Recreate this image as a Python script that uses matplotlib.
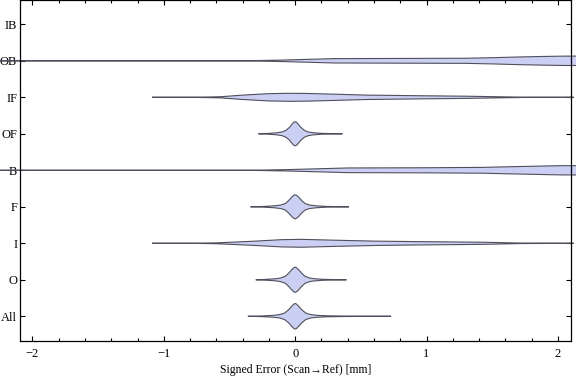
import matplotlib.pyplot as plt
from matplotlib.ticker import MultipleLocator

# categories bottom -> top
categories = ['All', 'O', 'I', 'F', 'B', 'OF', 'IF', 'OB', 'IB']

# violin outlines: x position [mm] and half-width (row units)
all_x = [-0.36, -0.25, -0.17, -0.12, -0.08, -0.05, -0.025, -0.01, 0, 0.01, 0.025, 0.05, 0.08, 0.12, 0.17, 0.25, 0.45, 0.73]
all_w = [0, 0.01, 0.025, 0.045, 0.09, 0.18, 0.28, 0.335, 0.35, 0.335, 0.28, 0.18, 0.09, 0.045, 0.025, 0.012, 0.004, 0]

o_x = [-0.30, -0.22, -0.15, -0.11, -0.075, -0.05, -0.025, -0.01, 0, 0.01, 0.025, 0.05, 0.075, 0.11, 0.15, 0.22, 0.39]
o_w = [0, 0.012, 0.028, 0.05, 0.095, 0.18, 0.28, 0.33, 0.345, 0.33, 0.28, 0.18, 0.095, 0.05, 0.028, 0.012, 0]

i_x = [-1.09, -0.75, -0.6, -0.45, -0.3, -0.1, 0.05, 0.3, 0.6, 0.9, 1.2, 1.45, 1.7, 2.12]
i_w = [0, 0.003, 0.012, 0.035, 0.06, 0.1, 0.108, 0.085, 0.06, 0.047, 0.037, 0.028, 0.008, 0]

f_x = [-0.34, -0.24, -0.16, -0.11, -0.075, -0.05, -0.025, -0.01, 0, 0.01, 0.025, 0.05, 0.075, 0.11, 0.16, 0.24, 0.41]
f_w = [0, 0.01, 0.026, 0.048, 0.09, 0.17, 0.27, 0.315, 0.33, 0.315, 0.27, 0.17, 0.09, 0.048, 0.026, 0.01, 0]

b_x = [-2.3, -0.3, -0.05, 0.4, 1.0, 1.43, 1.6, 1.8, 2.0, 2.2]
b_w = [0, 0.003, 0.02, 0.064, 0.07, 0.08, 0.095, 0.11, 0.125, 0.13]

of_x = [-0.28, -0.2, -0.14, -0.1, -0.07, -0.045, -0.022, -0.01, 0, 0.01, 0.022, 0.045, 0.07, 0.1, 0.14, 0.2, 0.36]
of_w = [0, 0.012, 0.028, 0.05, 0.095, 0.17, 0.27, 0.315, 0.33, 0.315, 0.27, 0.17, 0.095, 0.05, 0.028, 0.012, 0]

if_x = [-1.09, -0.75, -0.57, -0.4, -0.2, -0.05, 0.1, 0.3, 0.55, 0.9, 1.3, 1.55, 1.75, 2.12]
if_w = [0, 0.003, 0.015, 0.06, 0.1, 0.11, 0.105, 0.085, 0.06, 0.045, 0.03, 0.015, 0.004, 0]

ob_x = [-2.3, -0.35, -0.1, 0.3, 0.8, 1.3, 1.5, 1.7, 1.9, 2.05, 2.2]
ob_w = [0, 0.003, 0.02, 0.06, 0.065, 0.07, 0.085, 0.105, 0.12, 0.128, 0.13]

profiles = {'All': (all_x, all_w), 'O': (o_x, o_w), 'I': (i_x, i_w), 'F': (f_x, f_w),
            'B': (b_x, b_w), 'OF': (of_x, of_w), 'IF': (if_x, if_w), 'OB': (ob_x, ob_w)}

plt.rcParams['font.family'] = ['Liberation Serif', 'DejaVu Serif']

fig = plt.figure(figsize=(5.76, 3.81), dpi=100)
ax = fig.add_axes([20 / 576, 40 / 381, 551 / 576, 341 / 381])

for pos, cat in enumerate(categories, start=1):
    if cat not in profiles:
        continue
    xs, ws = profiles[cat]
    px = list(xs) + list(xs[::-1])
    py = [pos + w for w in ws] + [pos - w for w in ws[::-1]]
    ax.fill(px, py, facecolor='#cbcff3', edgecolor='#50505c', linewidth=0.8,
            clip_on=False, zorder=2)

ax.set_xlim(-2.095, 2.1)
ax.set_ylim(0.323, 9.666)
ax.xaxis.set_minor_locator(MultipleLocator(0.2))
ax.set_xticks([-2, -1, 0, 1, 2])
ax.set_xticklabels(['\u22122', '\u22121', '0', '1', '2'])
ax.set_yticks(range(1, len(categories) + 1))
ax.set_yticklabels(categories)

ax.tick_params(which='both', direction='in', top=True, right=True, width=0.8,
               labelsize=9, colors='black')
ax.tick_params(which='major', length=3.3)
ax.tick_params(which='minor', length=2)
ax.tick_params(axis='x', pad=5)
ax.tick_params(axis='y', pad=2)
for s in ax.spines.values():
    s.set_linewidth(0.9)
    s.set_zorder(3)

ax.set_xlabel('Signed Error (Scan\u2192Ref) [mm]', fontsize=8.5, labelpad=3)

fig.savefig('out.png', dpi=100)
